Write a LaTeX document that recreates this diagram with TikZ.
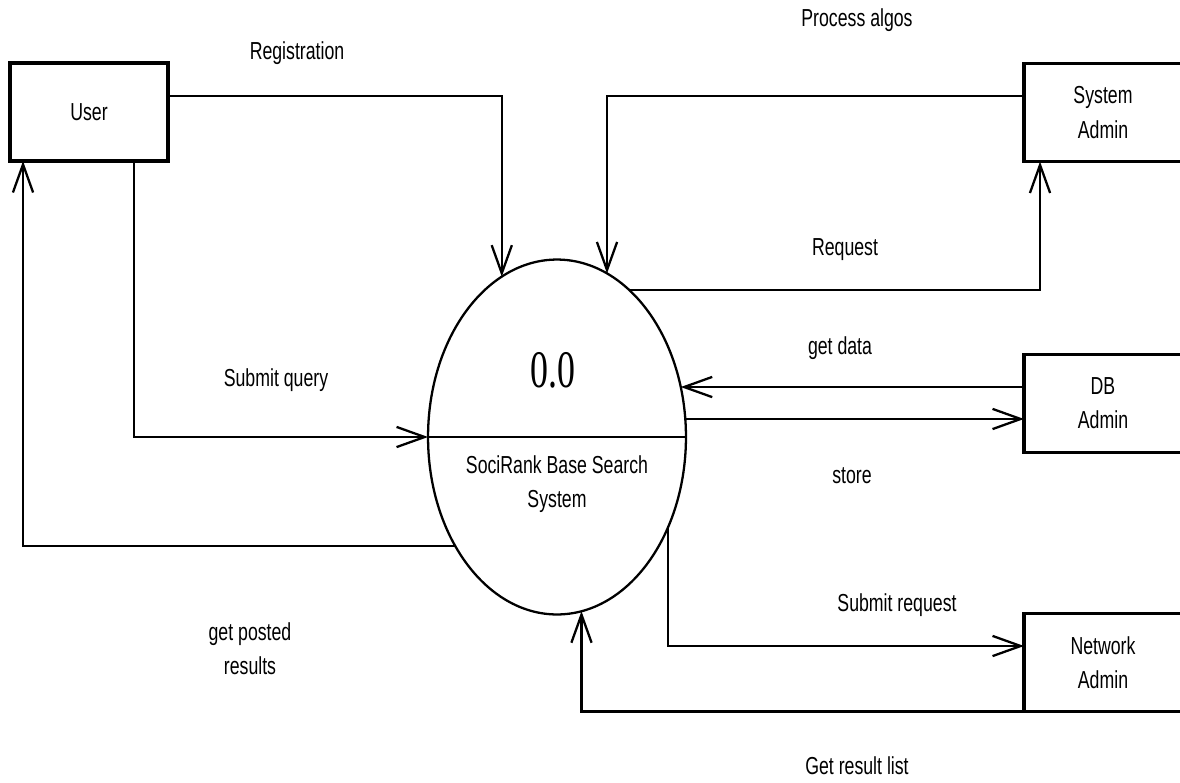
\documentclass[tikz,border=0pt]{standalone}
\usepackage{fontspec}
\setmainfont{Liberation Sans}[FakeStretch=0.72]
\newfontfamily\numfont{Liberation Serif}[FakeStretch=0.68]
\usetikzlibrary{arrows.meta, calc, shapes.geometric}

\begin{document}
\begin{tikzpicture}[x=0.02cm, y=-0.02cm,
    txt/.style={font=\fontsize{14}{19.5}\selectfont, align=center, inner sep=0pt},
    box/.style={draw, line width=1.8pt, minimum width=89.9pt, minimum height=55.8pt,
                inner sep=0pt, outer sep=0pt, txt},
    flow/.style={line width=1.3pt, -{Straight Barb[length=16pt, width=11.5pt]}},
    plain/.style={line width=1.3pt}]
      \useasboundingbox (0,0) rectangle (1180,782);
      \clip (0,0) rectangle (1180,782);

      % --- Externe Einheiten ---
      \node[box] (user)     at (89,112)    {User};
      \node[box] (sysadmin) at (1103,112.5) {System\\Admin};
      \node[box] (dbadmin)  at (1103,403.5) {DB\\Admin};
      \node[box] (netadmin) at (1103,662.5) {Network\\Admin};

      % --- Prozess 0.0 ---
      \node[draw, ellipse, line width=1.3pt, minimum width=146.8pt, minimum height=202pt,
            inner sep=0pt, outer sep=0pt] (proc) at (557,437) {};
      \draw[plain] (proc.west) -- (proc.east);
      \node[inner sep=0pt, font=\numfont\fontsize{30}{30}\selectfont] (pnum) at (553,370) {0.0};
      \node[txt] (pname) at (557,484) {SociRank Base Search\\System};

      % --- Datenflüsse ---
      \draw[flow] ($(user.east)+(0,-16)$) -| (proc.109);
      \draw[flow] ($(sysadmin.west)+(0,-16.5)$) -| (proc.73);
      \draw[flow] (proc.64) -| ($(sysadmin.south west)+(16,0)$);
      \draw[flow] (dbadmin.west |- proc.22) -- (proc.22);
      \draw[flow] (proc.8) -- (dbadmin.west |- proc.8);
      \draw[flow] ($(user.south)+(45,0)$) |- (proc.west);
      \draw[flow] (proc.227) -| ($(user.south west)+(13,0)$);
      \draw[flow] (proc.321) |- ($(netadmin.west)+(0,-16.5)$);
      \draw[flow] (netadmin.south west) -| (proc.278.5);

      % Beschriftungen
      \node[txt] (lreg)   at (297,53)  {Registration};
      \node[txt] (lalgo)  at (857,20)  {Process algos};
      \node[txt] (lreq)   at (845,250) {Request};
      \node[txt] (ldata)  at (840,348) {get data};
      \node[txt] (lstore) at (852,476) {store};
      \node[txt] (lquery) at (276,380) {Submit query};
      \node[txt] (lpost)  at (250,649) {get posted\\results};
      \node[txt] (lsub)   at (897,605) {Submit request};
      \node[txt] (lres)   at (857,766) {Get result list};
    \end{tikzpicture}
\end{document}
